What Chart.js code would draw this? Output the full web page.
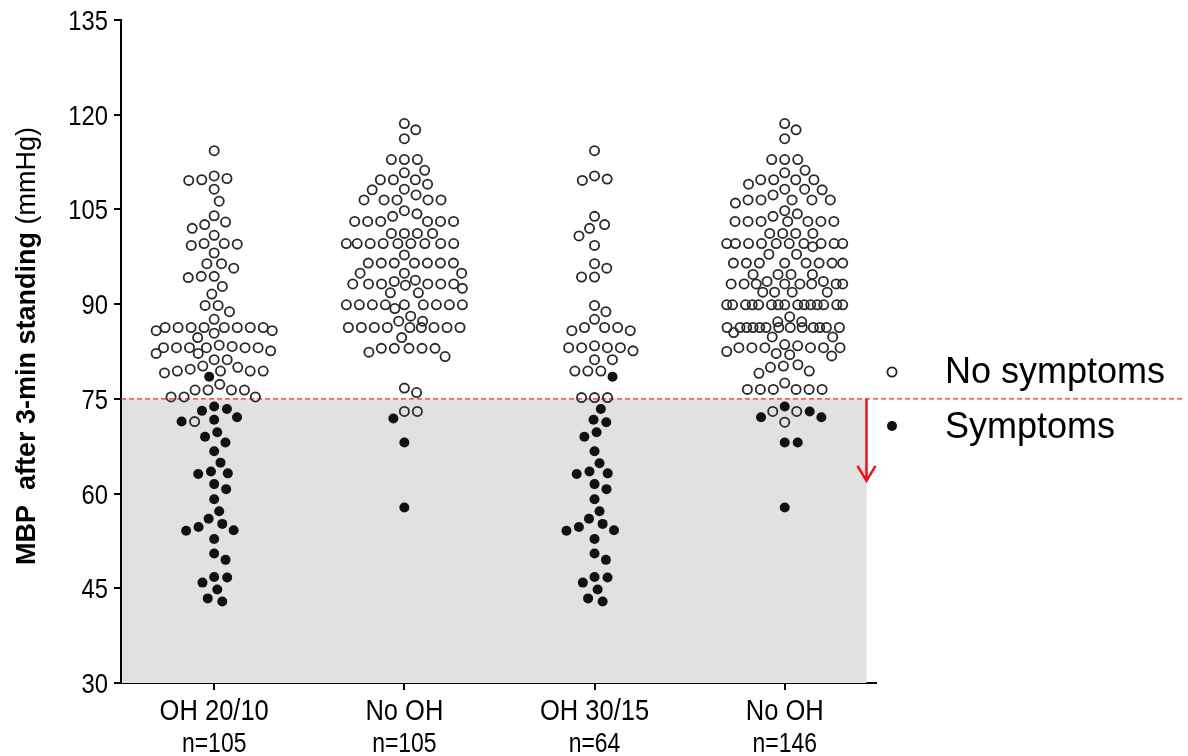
<!DOCTYPE html>
<html>
<head>
<meta charset="utf-8">
<script src="https://cdn.jsdelivr.net/npm/chart.js@4.4.1/dist/chart.umd.min.js"></script>
<style>
  html, body { margin: 0; padding: 0; background: #fff; }
  #wrap { width: 1188px; height: 756px; }
</style>
</head>
<body>
<div id="wrap"><canvas id="c" width="1188" height="756"></canvas></div>
<script>
// MBP after 3-min standing, per group (open = no symptoms, filled = symptoms)
const groups = ['OH 20/10', 'No OH', 'OH 30/15', 'No OH'];
const groupN = ['n=105', 'n=105', 'n=64', 'n=146'];
const yTicks = [30, 45, 60, 75, 90, 105, 120, 135];
const threshold = 75;

const oh2010Open = [114.3, 110.3, 109.6, 109.7, 109.9, 108.2, 106.3, 104, 102.6, 102, 103, 100.9,
  99.5, 99.3, 99.6, 99.6, 98.1, 96.4, 96.4, 95.7, 94.4, 94.2, 94.4, 92.8, 91.6, 89.8, 88.8, 89.8,
  86.3, 86.3, 86.3, 86.3, 86.3, 86.3, 86.3, 86.3, 85.8, 85.8, 87.6, 84.7, 85.4,
  83.1, 83.1, 83.1, 83.1, 83.1, 83.1, 82.2, 82.2, 83.3, 83.5, 82.6,
  81.2, 81.2, 80, 80.2, 79.7, 79.4, 79.4, 79.4, 79.4, 79.1, 77.3,
  76.4, 76.4, 76.4, 76.4, 75.3, 75.3, 75.3, 71.4];
const oh2010Filled = [78.5, 73.4, 73.8, 73.1, 72.1, 71.4, 71.7, 69.7, 69, 68.1, 66.7, 64.9, 63.2, 63.1,
  63.5, 61.5, 60.7, 59.1, 57.2, 54.7, 55.2, 56, 54.1, 54.2, 52.8, 50.5, 49.5, 46.7, 46.8, 45.9,
  44.8, 42.9, 43.4];

const noOh1Open = [118.6, 117.6, 116.2, 112.9, 112.9, 112.9, 111.2, 110.8,
  109.7, 109.7, 108.2, 109, 109.7, 108.1, 107.3, 106.5, 106.5, 106.5, 106.5, 106.5,
  104.8, 103.9, 104.3, 103.1, 103.1, 103.1, 103.1, 103.1, 103.1, 101.2, 101.2, 101.2, 101.2,
  99.6, 99.6, 99.6, 99.6, 99.6, 99.6, 99.6, 99.6, 99.6, 97.8,
  96.5, 96.5, 96.5, 96.5, 96.5, 96.5, 96.5, 94.9, 94.9, 94.9,
  93.2, 93.2, 93.2, 93.2, 93.2, 93.2, 92.5, 93.6, 93.8, 93, 91.8, 91.8,
  89.9, 89.9, 89.9, 89.9, 89.9, 89.9, 89.9, 89.9, 89.9, 89.3, 88.1, 87.3, 87.3,
  86.3, 86.3, 86.3, 86.3, 86.3, 86.3, 86.3, 86.3, 86.3, 84.7,
  83, 83, 83, 83, 83, 81.7, 82.4, 76.7, 76, 73, 73];
const noOh1Filled = [71.9, 68.1, 57.8];

const oh3015Open = [114.3, 110.3, 109.6, 109.8, 103.9, 102.6, 102, 100.8, 99.3, 96.4, 95.7, 94.3, 94.3,
  89.8, 88.8, 87.6, 86.3, 86.3, 86.3, 85.8, 85.8, 83.1, 83.1, 83.1, 83.1, 82.6, 83.4,
  81.2, 81.2, 79.4, 79.4, 79.4, 75.2, 75.2, 75.2];
const oh3015Filled = [78.5, 73.4, 71.7, 71.3, 69.7, 69, 66.7, 64.8, 63.2, 63.1, 63.5, 61.5, 60.7, 59.1,
  57.2, 56, 55.2, 54.7, 54.1, 54.2, 52.8, 50.5, 49.5, 46.7, 46.8, 45.9, 44.8, 42.9, 43.4];

const noOh2Open = [118.6, 117.6, 116.2, 112.9, 112.9, 112.9, 111.2, 110.8,
  109.7, 109.7, 109.7, 109.7, 109, 108.2, 108.2, 108.1, 107.3,
  106.5, 106.5, 106.5, 106.5, 106.5, 106, 104.3, 104.8, 103.9,
  103.1, 103.1, 103.1, 103.1, 103.1, 103.1, 103.1, 101.2, 101.2, 101.2, 101.2,
  99.6, 99.6, 99.6, 99.6, 99.6, 99.6, 99.6, 99.6, 99.6, 99.6, 99.1, 97.9, 97.9,
  96.5, 96.5, 96.5, 96.5, 96.5, 96.5, 96.5, 96.5, 94.7, 94.7, 94.7, 94.7, 93.6, 93.6,
  93.2, 93.2, 93.2, 93.2, 93.2, 93.2, 93.2, 93.2, 91.9, 91.9, 91.9, 91.9,
  89.9, 89.9, 89.9, 89.9, 89.9, 89.9, 89.9, 89.9, 89.9, 89.9, 89.9, 89.9, 89.9, 89.9, 89.9,
  88, 87.2, 87.2,
  86.3, 86.3, 86.3, 86.3, 86.3, 86.3, 86.3, 86.3, 86.3, 86.3, 86.3, 86.3, 86.3,
  84.8, 84.8, 85.5, 83.1, 83.1, 83.1, 83.1, 83.1, 83.1, 82.5, 82.2, 81.8, 82, 83.4, 83.6,
  80.2, 79.4, 79.05, 80, 80.4, 77.5, 76.5, 76.5, 76.5, 76.5, 76.5, 76.5, 73, 71.3, 73];
const noOh2Filled = [73.8, 72.1, 72.1, 73, 68.1, 68.1, 57.8];

const openSets = [oh2010Open, noOh1Open, oh3015Open, noOh2Open];
const filledSets = [oh2010Filled, noOh1Filled, oh3015Filled, noOh2Filled];

const FONT = '"Liberation Sans", Arial, sans-serif';

// beeswarm offsets (pixels) kept inside +/-limit; when a point finds no free
// spot inside the column it takes the spot with the least overlap
function swarm(vals, pxY, d, limit) {
  const order = vals.map((v, i) => i).sort((a, b) => vals[b] - vals[a]);
  const placed = [];
  const xs = new Array(vals.length);
  order.forEach(i => {
    const y = vals[i] * pxY;
    const near = placed.filter(p => Math.abs(p.y - y) < d);
    const cands = [0];
    near.forEach(p => {
      const dx = Math.sqrt(d * d - (p.y - y) * (p.y - y));
      cands.push(p.x + dx, p.x - dx);
    });
    let x = cands.filter(c => Math.abs(c) <= limit)
      .sort((a, b) => Math.abs(a) - Math.abs(b))
      .find(c => near.every(p => (p.x - c) ** 2 + (p.y - y) ** 2 >= d * d - 0.01));
    if (x === undefined) {
      let bestCost = Infinity;
      for (let c = -limit; c <= limit; c += 0.5) {
        let cost = 0.001 * Math.abs(c);
        near.forEach(p => {
          const dd = Math.hypot(p.x - c, p.y - y);
          if (dd < d) cost += (d - dd) * (d - dd);
        });
        if (cost < bestCost) { bestCost = cost; x = c; }
      }
    }
    placed.push({ x, y });
    xs[i] = x;
  });
  return xs;
}

// condensed text (Arial Narrow look) by squeezing Liberation Sans
function narrowText(ctx, text, x, y, size, align, squeeze) {
  ctx.save();
  ctx.font = size + 'px ' + FONT;
  ctx.textBaseline = 'alphabetic';
  ctx.textAlign = align;
  ctx.translate(x, y);
  ctx.scale(squeeze, 1);
  ctx.fillText(text, 0, 0);
  ctx.restore();
}

const decorPlugin = {
  id: 'decor',
  beforeDatasetsDraw(chart) {
    const { ctx, chartArea, scales } = chart;
    const yT = scales.y.getPixelForValue(threshold);
    const yB = scales.y.getPixelForValue(30);
    const xR = scales.x.getPixelForValue(3.43);
    ctx.save();
    ctx.fillStyle = '#e1e1e1';
    ctx.fillRect(chartArea.left + 1, yT, xR - chartArea.left - 1, yB - yT);
    ctx.strokeStyle = '#f0282d';
    ctx.lineWidth = 1.4;
    ctx.setLineDash([5, 3]);
    ctx.beginPath();
    ctx.moveTo(chartArea.left, yT);
    ctx.lineTo(1182, yT);
    ctx.stroke();
    ctx.restore();
  },
  afterDraw(chart) {
    const { ctx, scales, chartArea } = chart;
    const yT = scales.y.getPixelForValue(threshold);
    const xR = scales.x.getPixelForValue(3.43);
    const yTip = scales.y.getPixelForValue(62);
    ctx.save();
    ctx.fillStyle = '#000';
    // tick labels
    yTicks.forEach(v => narrowText(ctx, String(v), chartArea.left - 13, scales.y.getPixelForValue(v) + 10, 28, 'right', 0.85));
    groups.forEach((g, i) => {
      const x = scales.x.getPixelForValue(i);
      narrowText(ctx, g, x, 720, 30, 'center', 0.85);
      narrowText(ctx, groupN[i], x, 752, 27, 'center', 0.85);
    });
    // arrow
    ctx.strokeStyle = '#e8141b';
    ctx.lineWidth = 2.5;
    ctx.beginPath();
    ctx.moveTo(xR, yT);
    ctx.lineTo(xR, yTip);
    ctx.moveTo(xR - 9, yTip - 15);
    ctx.lineTo(xR, yTip);
    ctx.lineTo(xR + 9, yTip - 15);
    ctx.stroke();
    // legend
    ctx.lineWidth = 1.8;
    ctx.strokeStyle = '#222';
    ctx.beginPath();
    ctx.arc(892, 372, 4.6, 0, Math.PI * 2);
    ctx.stroke();
    ctx.fillStyle = '#111';
    ctx.beginPath();
    ctx.arc(892, 426, 5, 0, Math.PI * 2);
    ctx.fill();
    ctx.fillStyle = '#000';
    ctx.font = '36px ' + FONT;
    ctx.textBaseline = 'alphabetic';
    ctx.textAlign = 'left';
    ctx.fillText('No symptoms', 945, 383);
    ctx.fillText('Symptoms', 945, 438);
    // y title
    ctx.translate(35, 346);
    ctx.rotate(-Math.PI / 2);
    const boldPart = 'MBP  after 3-min standing ';
    const regPart = '(mmHg)';
    ctx.font = 'bold 27px ' + FONT;
    const w1 = ctx.measureText(boldPart).width;
    ctx.font = '27px ' + FONT;
    const w2 = ctx.measureText(regPart).width;
    const x0 = -(w1 + w2) / 2;
    ctx.font = 'bold 27px ' + FONT;
    ctx.fillText(boldPart, x0, 0);
    ctx.font = '27px ' + FONT;
    ctx.fillText(regPart, x0 + w1, 0);
    ctx.restore();
  }
};

const chart = new Chart(document.getElementById('c'), {
  type: 'scatter',
  data: {
    datasets: [
      { label: 'No symptoms', data: [], pointStyle: 'circle', pointRadius: 4.6, pointBorderWidth: 1.8,
        pointBackgroundColor: 'rgba(0,0,0,0)', pointBorderColor: '#2a2a2a' },
      { label: 'Symptoms', data: [], pointStyle: 'circle', pointRadius: 5, pointBorderWidth: 0,
        pointBackgroundColor: '#111', pointBorderColor: '#111' }
    ]
  },
  options: {
    responsive: false,
    animation: false,
    layout: { padding: { top: 20, right: 312, left: 0, bottom: 0 } },
    plugins: { legend: { display: false }, tooltip: { enabled: false } },
    scales: {
      x: {
        type: 'linear', min: -0.49, max: 3.48,
        afterBuildTicks: s => { s.ticks = [0, 1, 2, 3].map(v => ({ value: v })); },
        afterFit: s => { s.height = 73; },
        border: { color: '#000', width: 2 },
        grid: { drawOnChartArea: false, drawTicks: true, tickLength: 7, color: '#000', lineWidth: 2 },
        ticks: { display: false }
      },
      y: {
        min: 30, max: 135,
        afterBuildTicks: s => { s.ticks = yTicks.map(v => ({ value: v })); },
        afterFit: s => { s.width = 121; },
        border: { color: '#000', width: 2 },
        grid: { drawOnChartArea: false, drawTicks: true, tickLength: 7, color: '#000', lineWidth: 2 },
        ticks: { display: false }
      }
    }
  },
  plugins: [decorPlugin]
});

// place points: swarm layout in pixel space through the chart's scales
const pxX = chart.scales.x.getPixelForValue(1) - chart.scales.x.getPixelForValue(0);
const pxY = Math.abs(chart.scales.y.getPixelForValue(31) - chart.scales.y.getPixelForValue(30));
const openPts = [], filledPts = [];
groups.forEach((g, gi) => {
  const vals = openSets[gi].concat(filledSets[gi]);
  const offs = swarm(vals, pxY, 13, 58);
  vals.forEach((v, i) => {
    const pt = { x: gi + offs[i] / pxX, y: v };
    if (i < openSets[gi].length) openPts.push(pt); else filledPts.push(pt);
  });
});
chart.data.datasets[0].data = openPts;
chart.data.datasets[1].data = filledPts;
chart.update();
</script>
</body>
</html>
